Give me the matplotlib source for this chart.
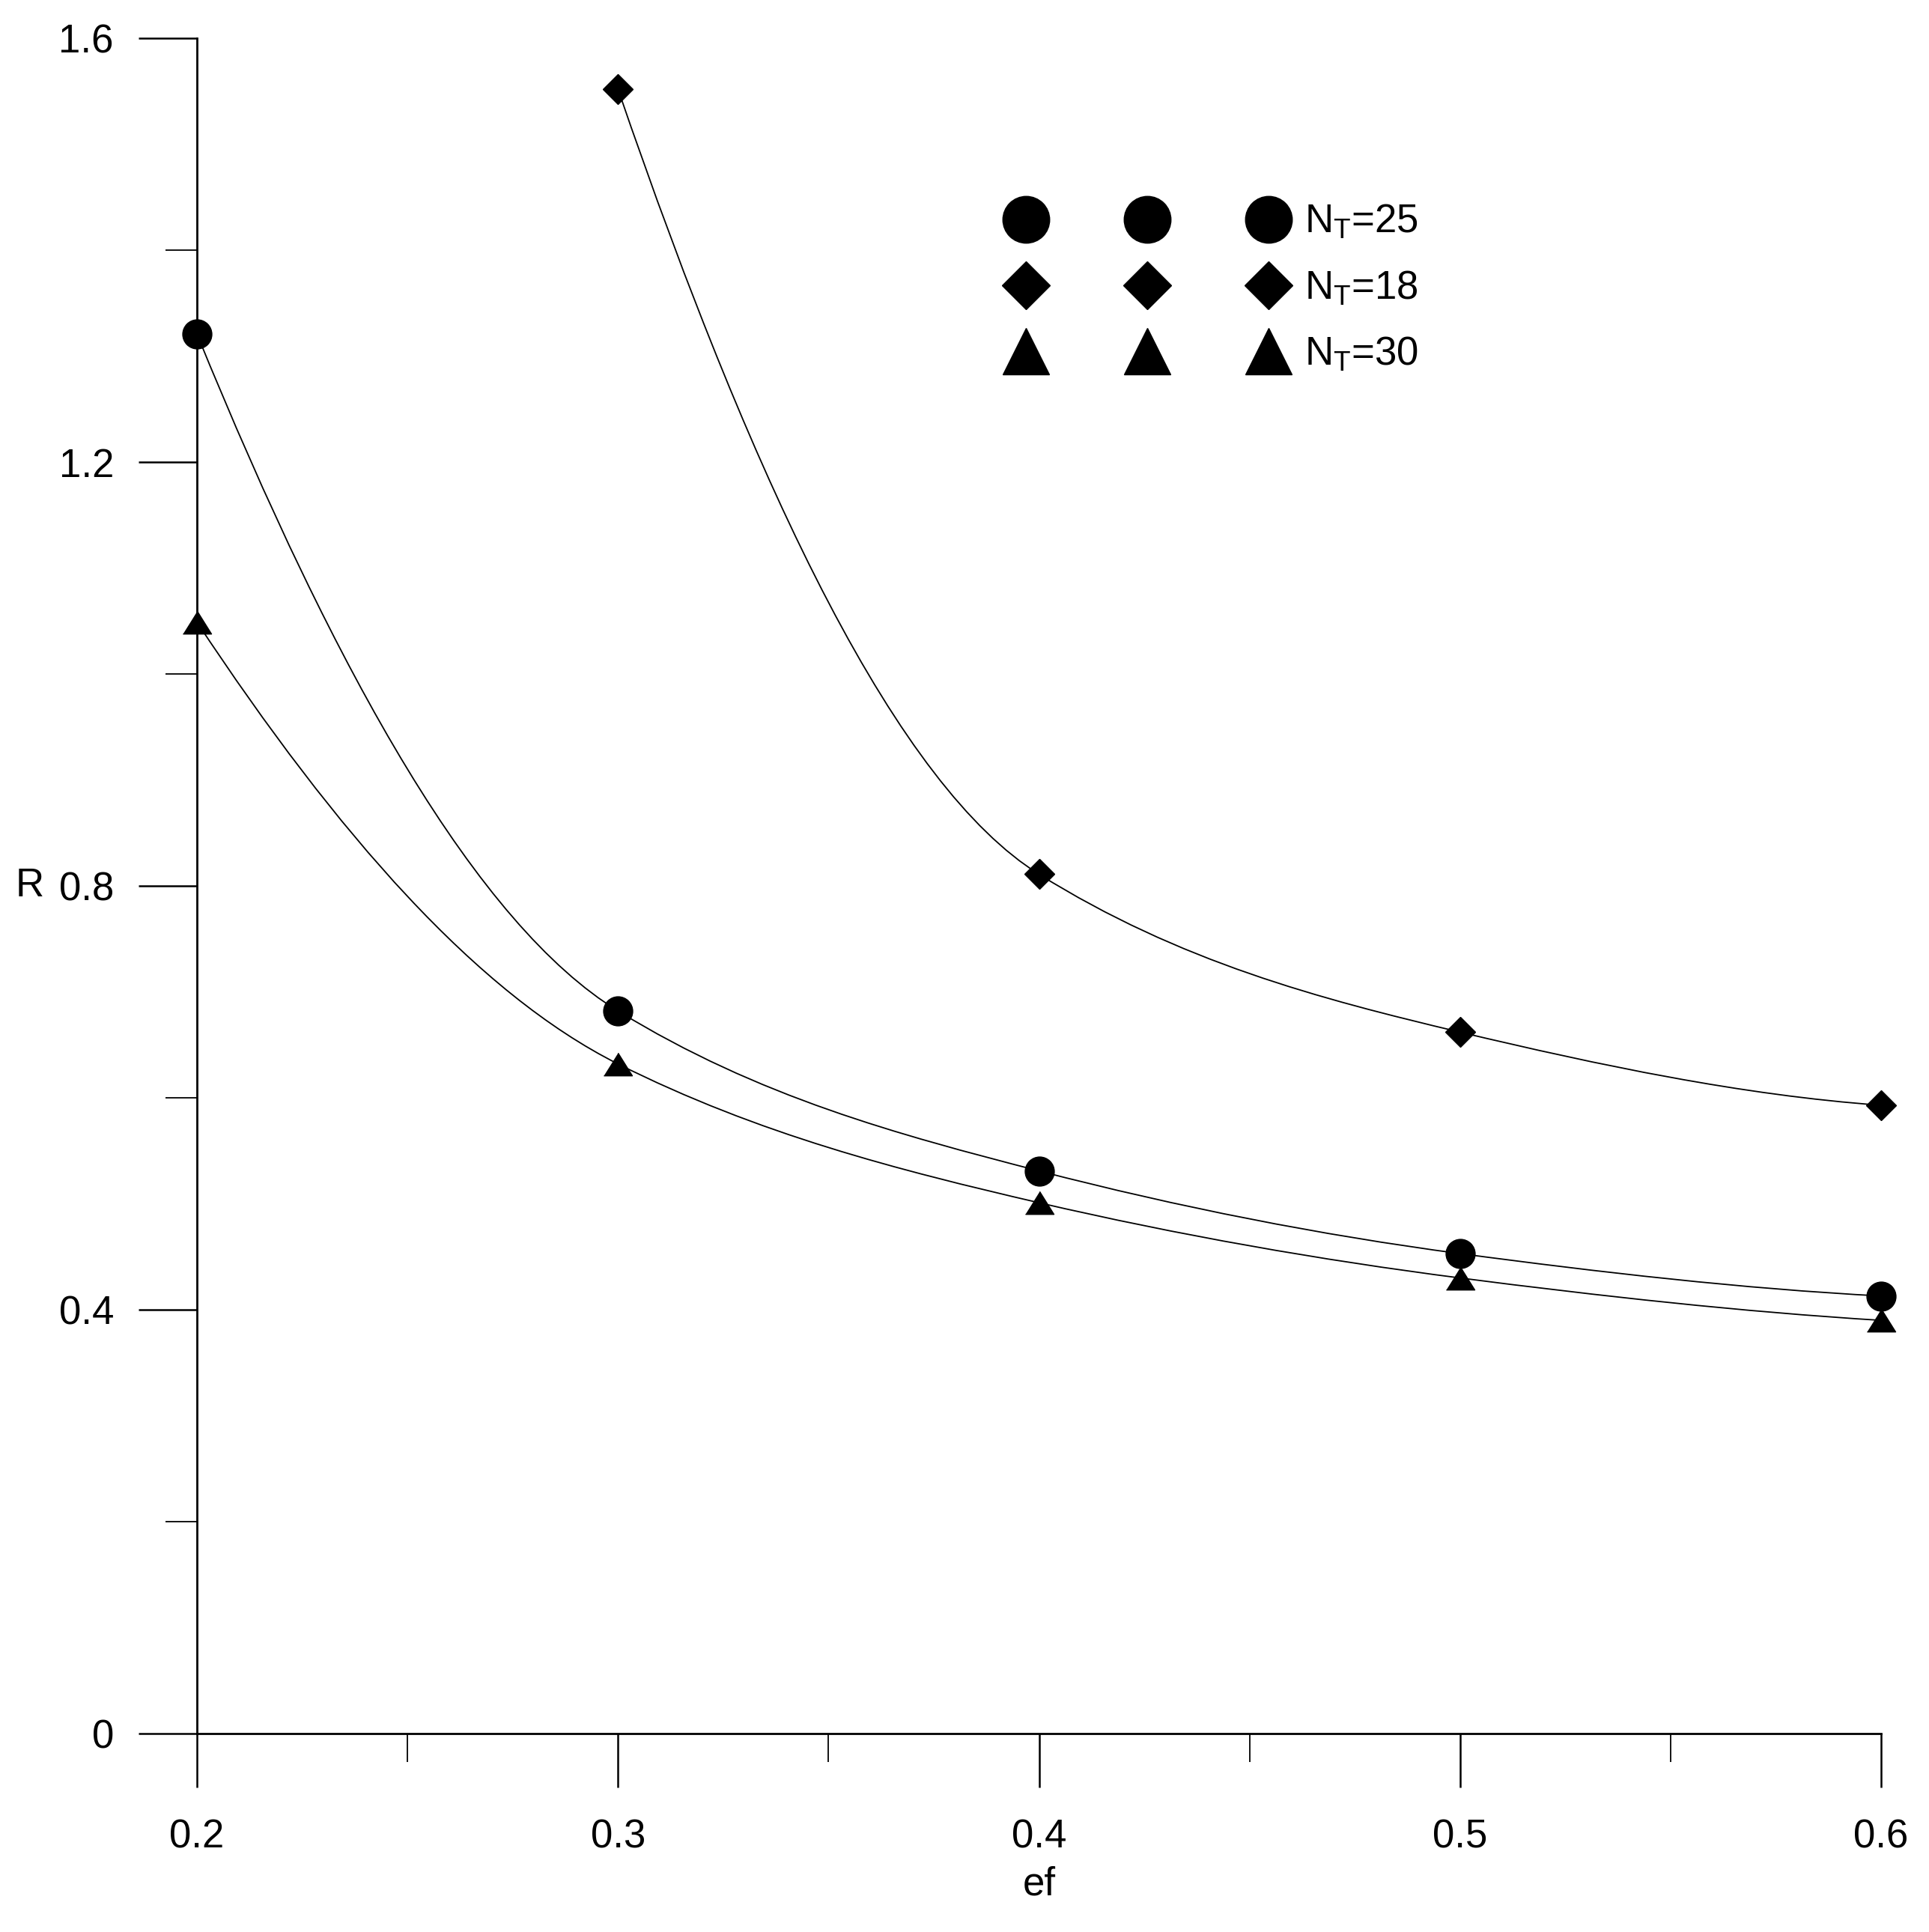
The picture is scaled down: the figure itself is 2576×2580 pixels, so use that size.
import numpy as np
import matplotlib
matplotlib.use('Agg')
import matplotlib.pyplot as plt
from matplotlib.path import Path
from matplotlib.patches import PathPatch
from matplotlib.lines import Line2D

plt.rcParams['font.family'] = ['Liberation Sans', 'DejaVu Sans']
plt.rcParams['mathtext.default'] = 'regular'

# data
ef = [0.2, 0.3, 0.4, 0.5, 0.6]
ef_18 = [0.3, 0.4, 0.5, 0.6]
r_nt25 = [1.321, 0.682, 0.531, 0.453, 0.413]
r_nt18 = [1.552, 0.811, 0.662, 0.593]
r_nt30 = [1.049, 0.632, 0.501, 0.430, 0.390]

x_ticks = [0.2, 0.3, 0.4, 0.5, 0.6]
x_labels = ['0.2', '0.3', '0.4', '0.5', '0.6']
x_minor = [0.25, 0.35, 0.45, 0.55]
y_ticks = [0, 0.4, 0.8, 1.2, 1.6]
y_labels = ['0', '0.4', '0.8', '1.2', '1.6']
y_minor = [0.2, 0.6, 1.0, 1.4]
legend_labels = ['N$_T$=25', 'N$_T$=18', 'N$_T$=30']

FS = 38
tri = [(-1, -0.8), (1, -0.8), (0, 0.8)]


def smooth_path(x, y):
    # monotone cubic through the points, drawn as bezier segments
    x = np.asarray(x, float)
    y = np.asarray(y, float)
    h = np.diff(x)
    d = np.diff(y) / h
    n = len(x)
    m = np.zeros(n)
    for k in range(1, n - 1):
        if d[k - 1] * d[k] > 0:
            w1 = 2 * h[k] + h[k - 1]
            w2 = h[k] + 2 * h[k - 1]
            m[k] = (w1 + w2) / (w1 / d[k - 1] + w2 / d[k])
    # steeper start, like the original curve fit
    m[0] = d[0] + 0.85 * (d[0] - m[1])
    m[-1] = ((2 * h[-1] + h[-2]) * d[-1] - h[-1] * d[-2]) / (h[-1] + h[-2])
    verts = [(x[0], y[0])]
    codes = [Path.MOVETO]
    for i in range(n - 1):
        verts += [(x[i] + h[i] / 3, y[i] + m[i] * h[i] / 3),
                  (x[i + 1] - h[i] / 3, y[i + 1] - m[i + 1] * h[i] / 3),
                  (x[i + 1], y[i + 1])]
        codes += [Path.CURVE4] * 3
    return Path(verts, codes)


fig = plt.figure(figsize=(25.76, 25.80), dpi=100)
ax = fig.add_axes([0.1021, 0.1027, 0.8731, 0.8775])

for xs, ys in [(ef, r_nt25), (ef_18, r_nt18), (ef, r_nt30)]:
    ax.add_patch(PathPatch(smooth_path(xs, ys), fill=False, ec='black',
                           lw=1.3, clip_on=False, zorder=2))

ax.plot(ef, r_nt25, ls='none', marker='o', ms=28, color='black', clip_on=False, zorder=3)
ax.plot(ef_18, r_nt18, ls='none', marker='D', ms=20.4, color='black', clip_on=False, zorder=3)
ax.plot(ef, r_nt30, ls='none', marker=tri, ms=27.4, color='black', clip_on=False, zorder=3)

ax.set_xlim(0.2, 0.6)
ax.set_ylim(0, 1.6)
ax.spines['top'].set_visible(False)
ax.spines['right'].set_visible(False)
ax.spines['left'].set_linewidth(2)
ax.spines['bottom'].set_linewidth(2)

ax.set_xticks(x_ticks, labels=x_labels)
ax.set_xticks(x_minor, minor=True)
ax.set_yticks(y_ticks, labels=y_labels)
ax.set_yticks(y_minor, minor=True)
ax.tick_params(axis='x', which='major', direction='out', length=52, width=1.8, pad=30, labelsize=FS)
ax.tick_params(axis='x', which='minor', direction='out', length=27, width=1.3)
ax.tick_params(axis='y', which='major', direction='out', length=56, width=1.8, pad=24, labelsize=FS)
ax.tick_params(axis='y', which='minor', direction='out', length=30, width=1.3)

ax.set_xlabel('ef', fontsize=FS, va='center')
ax.xaxis.set_label_coords(0.5, -0.089)
ax.set_ylabel('R', fontsize=FS, rotation=0, ha='left', va='center')
ax.yaxis.set_label_coords(-0.1076, 0.5)

handles = [
    Line2D([], [], ls='none', marker='o', ms=45, color='black'),
    Line2D([], [], ls='none', marker='D', ms=32.6, color='black'),
    Line2D([], [], ls='none', marker='^', ms=44, color='black'),
]
ax.legend(handles, legend_labels, numpoints=3, frameon=False, fontsize=FS,
          loc='upper left', bbox_to_anchor=(0.485, 0.9026), bbox_transform=ax.transAxes,
          borderpad=0, borderaxespad=0, handlelength=6.75, handletextpad=0.6,
          labelspacing=0.72)

fig.savefig('out.png', dpi=100)
